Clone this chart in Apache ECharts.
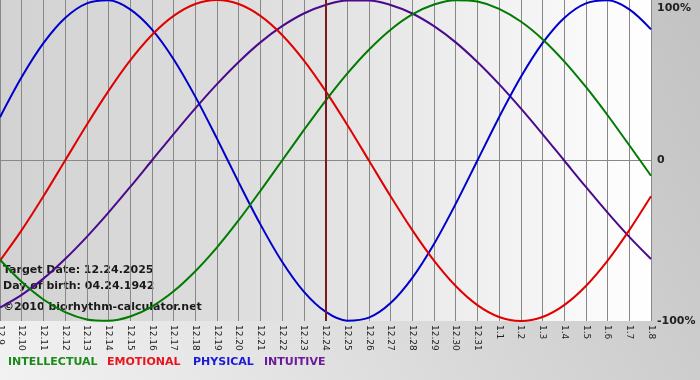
<!DOCTYPE html>
<html><head><meta charset="utf-8">
<script src="https://cdn.jsdelivr.net/npm/echarts@6/dist/echarts.min.js"></script>
<style>html,body{margin:0;padding:0;}#c{width:700px;height:380px;}</style>
</head><body><div id="c"></div>
<script>
const dates = ['12.9','12.10','12.11','12.12','12.13','12.14','12.15','12.16','12.17','12.18','12.19','12.20','12.21','12.22','12.23','12.24','12.25','12.26','12.27','12.28','12.29','12.30','12.31','1.1','1.2','1.3','1.4','1.5','1.6','1.7','1.8'];
const intellectual = [-0.618,-0.756,-0.866,-0.945,-0.990,-0.999,-0.972,-0.910,-0.815,-0.690,-0.541,-0.372,-0.189,0,0.189,0.372,0.541,0.690,0.815,0.910,0.972,0.999,0.990,0.945,0.866,0.756,0.618,0.458,0.282,0.095,-0.095];
const emotional = [-0.624,-0.434,-0.223,0,0.223,0.434,0.624,0.782,0.901,0.975,1,0.975,0.901,0.782,0.624,0.434,0.223,0,-0.223,-0.434,-0.624,-0.782,-0.901,-0.975,-1,-0.975,-0.901,-0.782,-0.624,-0.434,-0.223];
const physical = [0.270,0.520,0.731,0.888,0.979,0.998,0.942,0.817,0.631,0.398,0.136,-0.136,-0.398,-0.631,-0.817,-0.942,-0.998,-0.979,-0.888,-0.731,-0.520,-0.270,0,0.270,0.520,0.731,0.888,0.979,0.998,0.942,0.817];
const intuitive = [-0.916,-0.837,-0.736,-0.614,-0.476,-0.325,-0.165,0,0.165,0.325,0.476,0.614,0.736,0.837,0.916,0.969,0.997,0.997,0.969,0.916,0.837,0.736,0.614,0.476,0.325,0.165,0,-0.165,-0.325,-0.476,-0.614];
const targetDate = '12.24';
const yTicks = {'1':'{t|100%}','0':'0','-1':'-100%'};
const infoLines = ['Target Date: 12.24.2025','Day of birth: 04.24.1942','\u00A92010 biorhythm-calculator.net'];
const legendNames = ['INTELLECTUAL','EMOTIONAL','PHYSICAL','INTUITIVE'];

const chart = echarts.init(document.getElementById('c'), null, {renderer:'canvas'});
const FF = '"DejaVu Sans", Verdana, sans-serif';
function line(name, data, color, extra) {
  return Object.assign({name, type:'line', data, smooth:0.33, showSymbol:false, symbol:'none',
    lineStyle:{color, width:2}, itemStyle:{color}, animation:false, silent:true}, extra||{});
}
const infoTops = [265, 281, 302];
const legendLefts = [8, 107, 193, 264];
const legendColors = ['#1a8a1a','#e8141c','#1a1ad8','#6a1a9a'];
chart.setOption({
  animation:false,
  backgroundColor:{type:'linear',x:1,y:0,x2:0,y2:1,colorStops:[{offset:0,color:'#c2c2c2'},{offset:1,color:'#f2f2f2'}]},
  grid:{left:0, top:0, width:651, height:321, show:true, borderWidth:0, containLabel:false, outerBoundsMode:'none',
    backgroundColor:{type:'linear',x:0,y:0,x2:1,y2:0,colorStops:[{offset:0,color:'#d2d2d2'},{offset:0.5,color:'#e2e2e2'},{offset:1,color:'#ffffff'}]}},
  xAxis:{type:'category', data:dates, boundaryGap:false,
    axisLine:{lineStyle:{color:'#888',width:1}},
    axisTick:{show:true, length:3, lineStyle:{color:'#888'}, interval:0},
    splitLine:{show:true, interval:0, lineStyle:{color:'#888',width:1}},
    axisLabel:{interval:0, rotate:-90, fontSize:9, color:'#222', fontFamily:FF, margin:4}},
  yAxis:{type:'value', position:'right', min:-1, max:1, interval:1,
    axisLine:{show:false}, axisTick:{show:false},
    splitLine:{show:true, lineStyle:{color:['transparent','#888','transparent'],width:1}},
    axisLabel:{margin:6, fontSize:11, fontWeight:'bold', color:'#222', fontFamily:FF,
      verticalAlignMaxLabel:'top',
      rich:{t:{fontSize:11, fontWeight:'bold', color:'#222', fontFamily:FF, padding:[3,0,0,0]}},
      formatter:v=>yTicks[String(v)]}},
  series:[
    line('INTUITIVE', intuitive, '#4b0a8c'),
    line('PHYSICAL', physical, '#0000cc'),
    line('EMOTIONAL', emotional, '#e00000'),
    line('INTELLECTUAL', intellectual, '#007a00', {
      markLine:{silent:true, symbol:['none','none'], label:{show:false},
        lineStyle:{color:'#7a1a1a', width:2, type:'solid'},
        data:[{xAxis:targetDate}]}})
  ],
  graphic: infoLines.map((t,i)=>({type:'text', left:3, top:infoTops[i], silent:true,
      style:{text:t, font:'bold 11px '+FF, fill:'#1a1a1a'}})).concat(
    legendNames.map((t,i)=>({type:'text', left:legendLefts[i], top:357, silent:true,
      style:{text:t, font:'bold 11px '+FF, fill:legendColors[i]}})))
});
</script></body></html>
